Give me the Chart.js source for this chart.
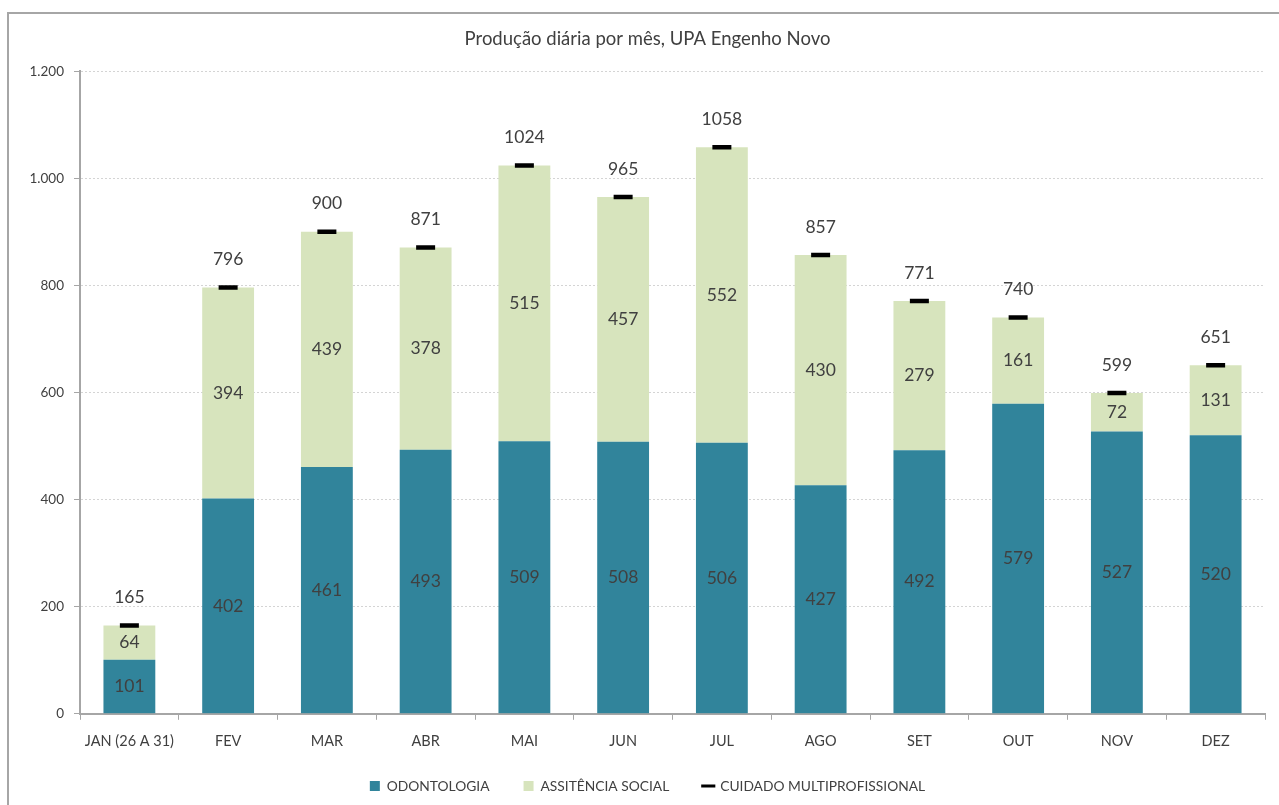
<!DOCTYPE html>
<html>
<head>
<meta charset="utf-8">
<script src="https://cdn.jsdelivr.net/npm/chart.js@4"></script>
<style>
  html, body { margin: 0; padding: 0; background: #ffffff; }
  #wrap { position: relative; width: 1279px; height: 805px; }
  #frame { position: absolute; left: 7px; top: 12px; width: 1280px; height: 800px;
           border-left: 2px solid #a6a6a6; border-top: 2px solid #a6a6a6; box-sizing: border-box; pointer-events: none; }
  canvas { position: absolute; left: 0; top: 0; }
</style>
</head>
<body>
<div id="wrap">
  <canvas id="c" width="1279" height="805"></canvas>
  <div id="frame"></div>
</div>
<script>
const months = ['JAN (26 A 31)', 'FEV', 'MAR', 'ABR', 'MAI', 'JUN', 'JUL', 'AGO', 'SET', 'OUT', 'NOV', 'DEZ'];
const odontologia = [101, 402, 461, 493, 509, 508, 506, 427, 492, 579, 527, 520];
const assistenciaSocial = [64, 394, 439, 378, 515, 457, 552, 430, 279, 161, 72, 131];
const cuidadoMultiprofissional = [165, 796, 900, 871, 1024, 965, 1058, 857, 771, 740, 599, 651];
const yTicks = [0, 200, 400, 600, 800, 1000, 1200];

const FONT = 'Lato, "Open Sans", sans-serif';
const TXT = '#404040';

function fmt(v) {
  return String(v).replace(/\B(?=(\d{3})+(?!\d))/g, '.');
}

const labelPlugin = {
  id: 'valueLabels',
  afterDatasetsDraw(chart) {
    const ctx = chart.ctx;
    ctx.save();
    ctx.font = '17.5px ' + FONT;
    ctx.fillStyle = TXT;
    ctx.textAlign = 'center';
    ctx.textBaseline = 'middle';
    chart.data.datasets.forEach((ds, di) => {
      const meta = chart.getDatasetMeta(di);
      meta.data.forEach((el, i) => {
        const v = ds.data[i];
        if (di < 2) {
          const p = el.getProps(['x', 'y', 'base'], true);
          ctx.fillText(String(v), p.x, (p.y + p.base) / 2);
        } else {
          const p = el.getProps(['x', 'y'], true);
          ctx.fillText(String(v), p.x, p.y - 28);
        }
      });
    });
    ctx.restore();
  }
};

new Chart(document.getElementById('c'), {
  data: {
    labels: months,
    datasets: [
      {
        type: 'bar', label: 'ODONTOLOGIA', data: odontologia,
        backgroundColor: '#31849b', stack: 'bars',
        barPercentage: 0.525, categoryPercentage: 1.0, order: 2
      },
      {
        type: 'bar', label: 'ASSITÊNCIA SOCIAL', data: assistenciaSocial,
        backgroundColor: '#d7e4bd', stack: 'bars',
        barPercentage: 0.525, categoryPercentage: 1.0, order: 2
      },
      {
        type: 'line', label: 'CUIDADO MULTIPROFISSIONAL', data: cuidadoMultiprofissional,
        stack: 'marker', showLine: false, borderColor: '#000000', backgroundColor: '#000000',
        pointStyle: 'line', pointRadius: 9.5, pointHoverRadius: 9.5, pointBorderWidth: 4.5, order: 1
      }
    ]
  },
  plugins: [labelPlugin],
  options: {
    responsive: false,
    animation: false,
    events: [],
    layout: { padding: { left: 24, right: 8, top: 20, bottom: 2 } },
    plugins: {
      tooltip: { enabled: false },
      title: {
        display: true,
        text: 'Produção diária por mês, UPA Engenho Novo',
        color: TXT,
        font: { family: FONT, size: 18.5, weight: 'normal' },
        padding: { top: 8, bottom: 21 }
      },
      legend: {
        position: 'bottom',
        labels: {
          color: TXT,
          font: { family: FONT, size: 13.8 },
          boxWidth: 10, boxHeight: 10, padding: 34,
          usePointStyle: true,
          generateLabels(chart) {
            return chart.data.datasets.map((ds, i) => ({
              text: ds.label,
              fillStyle: i === 2 ? '#000000' : ds.backgroundColor,
              strokeStyle: '#000000',
              lineWidth: i === 2 ? 3 : 0,
              pointStyle: i === 2 ? 'line' : 'rect',
              fontColor: TXT,
              hidden: false,
              datasetIndex: i
            }));
          }
        }
      }
    },
    scales: {
      x: {
        stacked: true,
        offset: true,
        afterFit(scale) {
          scale.height -= 18;
          scale._computeLabelArea = function () { return undefined; };
        },
        grid: { display: true, offset: true, drawOnChartArea: false, drawTicks: true, tickLength: 6, color: '#a6a6a6', lineWidth: 1 },
        border: { display: true, color: '#a6a6a6', width: 2 },
        ticks: { color: TXT, font: { family: FONT, size: 14.5 }, padding: 13, maxRotation: 0, autoSkip: false }
      },
      y: {
        stacked: true,
        min: 0, max: 1200,
        afterBuildTicks(scale) { scale.ticks = yTicks.map(v => ({ value: v })); },
        afterFit(scale) { scale.width = 56; },
        grid: { color: '#d4d4d4', lineWidth: 1, tickLength: 6, tickColor: '#a6a6a6', drawTicks: true },
        border: { display: true, color: '#a6a6a6', width: 2, dash: [2, 2] },
        ticks: { color: TXT, font: { family: FONT, size: 13.5 }, padding: 10, callback: v => fmt(v) }
      }
    }
  }
});
</script>
</body>
</html>
